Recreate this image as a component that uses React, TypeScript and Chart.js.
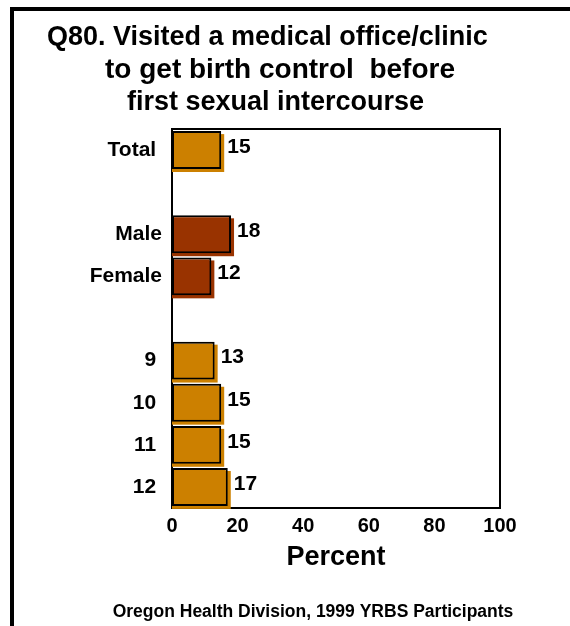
import React, { useEffect, useRef } from "react";
import { Chart, registerables } from "chart.js";

Chart.register(...registerables);

const titleLines = [
  "Q80. Visited a medical office/clinic",
  "to get birth control  before",
  "first sexual intercourse",
];
const categories = ["Total ", "", "Male", "Female", "", "9 ", "10 ", "11 ", "12 "];
const percents: (number | null)[] = [15, null, 18, 12, null, 13, 15, 15, 17];
const groups: (string | null)[] = ["total", null, "sex", "sex", null, "grade", "grade", "grade", "grade"];
const xTicks = [0, 20, 40, 60, 80, 100];
const axisTitle = "Percent";
const footer = "Oregon Health Division, 1999 YRBS Participants";

const ORANGE = "#CC8000";
const BROWN = "#993300";
const FONT = "'Liberation Sans', Arial, Helvetica, sans-serif";

const barColors = groups.map((g) => (g === "sex" ? BROWN : ORANGE));

const decorPlugin = {
  id: "decor",
  beforeDraw(chart: any) {
    const ctx = chart.ctx;
    ctx.save();
    ctx.fillStyle = "#ffffff";
    ctx.fillRect(0, 0, chart.width, chart.height);
    // frame
    ctx.fillStyle = "#000000";
    ctx.fillRect(10, 7, 4, chart.height - 7);
    ctx.fillRect(10, 7, chart.width - 10, 4);
    // title
    ctx.fillStyle = "#000000";
    ctx.textBaseline = "alphabetic";
    ctx.textAlign = "left";
    const xs = [47, 105, 127];
    const ys = [45, 78, 110];
    const sizes = [27, 28, 27];
    titleLines.forEach((t, i) => {
      ctx.font = `bold ${sizes[i]}px ${FONT}`;
      ctx.fillText(t, xs[i], ys[i]);
    });
    // footer
    ctx.font = `bold 17.5px ${FONT}`;
    ctx.textAlign = "center";
    ctx.fillText(footer, 313, 617);
    ctx.restore();
  },
  beforeDatasetsDraw(chart: any) {
    const ctx = chart.ctx;
    const meta = chart.getDatasetMeta(0);
    ctx.save();
    meta.data.forEach((el: any, i: number) => {
      if (percents[i] == null) return;
      const { x, y, base, height } = el.getProps(["x", "y", "base", "height"], true);
      ctx.fillStyle = barColors[i];
      ctx.fillRect(base, y - height / 2 + 3, x - base + 3, height);
    });
    ctx.restore();
  },
  afterDatasetsDraw(chart: any) {
    const ctx = chart.ctx;
    const meta = chart.getDatasetMeta(0);
    const ca = chart.chartArea;
    ctx.save();
    // top and right frame of plot
    ctx.strokeStyle = "#000000";
    ctx.lineWidth = 2;
    ctx.beginPath();
    ctx.moveTo(ca.left, ca.top);
    ctx.lineTo(ca.right, ca.top);
    ctx.lineTo(ca.right, ca.bottom);
    ctx.stroke();
    // value labels
    ctx.fillStyle = "#000000";
    ctx.font = `bold 21px ${FONT}`;
    ctx.textAlign = "left";
    ctx.textBaseline = "middle";
    meta.data.forEach((el: any, i: number) => {
      const v = percents[i];
      if (v == null) return;
      const { x, y } = el.getProps(["x", "y"], true);
      ctx.fillText(String(v), x + 6, y - 3);
    });
    ctx.restore();
  },
};

export default function App() {
  const ref = useRef<HTMLCanvasElement>(null);
  useEffect(() => {
    if (!ref.current) return;
    const chart = new Chart(ref.current, {
      type: "bar",
      data: {
        labels: categories,
        datasets: [
          {
            data: percents,
            backgroundColor: barColors,
            borderColor: "#000000",
            borderWidth: 2,
            borderSkipped: false,
            barPercentage: 0.9,
            categoryPercentage: 1,
          },
        ],
      },
      options: {
        indexAxis: "y",
        responsive: false,
        animation: false,
        devicePixelRatio: 1,
        layout: { padding: { top: 129, right: 70, left: 0, bottom: 0 } },
        plugins: { legend: { display: false }, tooltip: { enabled: false }, title: { display: false } },
        scales: {
          x: {
            min: 0,
            max: 100,
            afterFit: (s: any) => {
              s.height = 118;
            },
            afterBuildTicks: (s: any) => {
              s.ticks = xTicks.map((v) => ({ value: v }));
            },
            grid: { display: false, drawTicks: false },
            border: { display: true, color: "#000000", width: 2 },
            ticks: {
              padding: 6,
              color: "#000000",
              font: { family: FONT, size: 20, weight: "bold" },
            },
            title: {
              display: true,
              text: axisTitle,
              color: "#000000",
              font: { family: FONT, size: 27, weight: "bold" },
              padding: { top: 0, bottom: 52 },
            },
          },
          y: {
            afterFit: (s: any) => {
              s.width = 172;
            },
            grid: { display: false, drawTicks: false },
            border: { display: true, color: "#000000", width: 2 },
            ticks: {
              padding: 10,
              autoSkip: false,
              color: "#000000",
              font: { family: FONT, size: 21, weight: "bold" },
            },
          },
        },
      },
      plugins: [decorPlugin],
    });
    return () => chart.destroy();
  }, []);
  return (
    <div style={{ position: "fixed", left: 0, top: 0, width: 570, height: 626, background: "#fff" }}>
      <canvas ref={ref} width={570} height={626} style={{ display: "block" }} />
    </div>
  );
}
